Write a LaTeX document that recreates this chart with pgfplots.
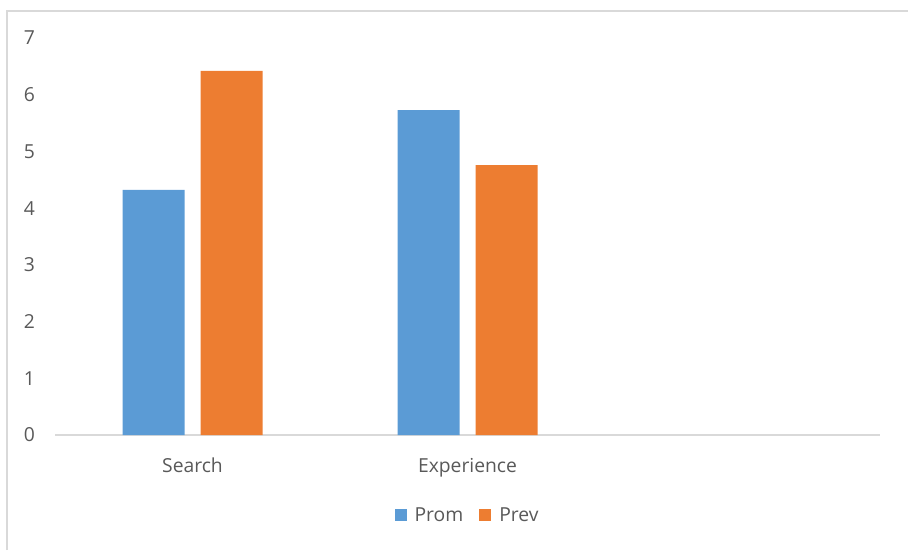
\documentclass[border=0pt]{standalone}
\usepackage{pgfplots}
\pgfplotsset{compat=1.18}
\usepackage{fontspec}
\setmainfont{Open Sans}
\definecolor{promBlue}{HTML}{5B9BD5}
\definecolor{prevOrange}{HTML}{ED7D31}
\definecolor{lineGray}{HTML}{D9D9D9}
\definecolor{txtGray}{HTML}{595959}
\begin{document}
\begin{tikzpicture}[x=1pt,y=1pt]
\useasboundingbox (0,0) rectangle (908,550);
\draw[lineGray, line width=1.5pt] (7,0) -- (7,539) -- (908,539);
\begin{axis}[
  at={(55pt,115pt)}, anchor=south west,
  scale only axis, width=825pt, height=397pt,
  xmin=-0.5, xmax=2.5, ymin=0, ymax=7,
  ybar, bar width=62pt,
  axis x line*=bottom, axis y line*=left,
  x axis line style={-, draw=lineGray, line width=1.5pt},
  y axis line style={draw=none},
  major tick length=0pt,
  xtick={0,1}, xticklabels={Search, Experience},
  ytick={0,1,...,7},
  /pgf/number format/assume math mode=true,
  tick label style={font=\fontsize{19.3}{22}\selectfont, text=txtGray},
  yticklabel style={anchor=east, inner sep=0pt, xshift=-20pt},
  xticklabel style={anchor=north, inner sep=0pt, yshift=-23pt},
  legend style={draw=none, at={(0.5,-0.2015)}, anchor=center,
    legend columns=2, font=\fontsize{19.3}{22}\selectfont, text=txtGray,
    /tikz/every odd column/.append style={column sep=6pt},
    /tikz/every even column/.append style={column sep=14pt}},
  legend image code/.code={\fill (0pt,-6pt) rectangle (12pt,6pt);},
]
\addplot[fill=promBlue, draw=none, bar shift=-39pt] coordinates {(0,4.32) (1,5.73)};
\addplot[fill=prevOrange, draw=none, bar shift=39pt] coordinates {(0,6.42) (1,4.76)};
\legend{Prom, Prev}
\end{axis}
\end{tikzpicture}
\end{document}
